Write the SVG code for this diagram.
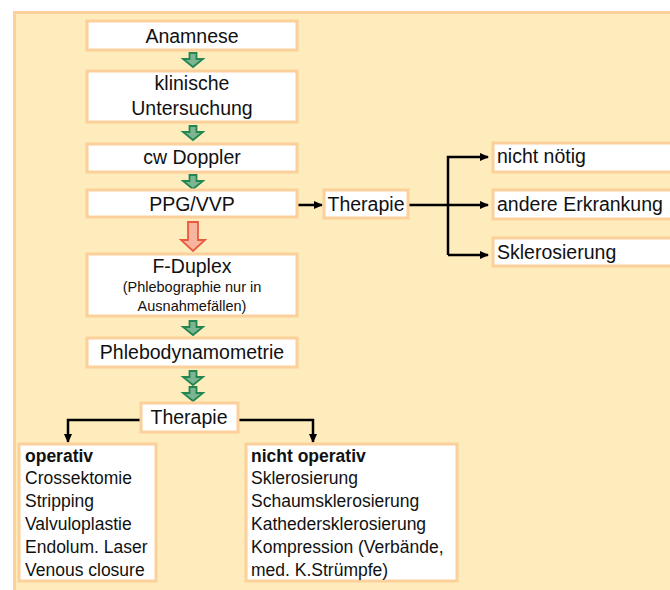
<svg xmlns="http://www.w3.org/2000/svg" xmlns:xlink="http://www.w3.org/1999/xlink" width="670" height="590" viewBox="0 0 670 590">
<style>
.box{fill:#fff;stroke:#fbd09a;stroke-width:3}
.t{font-family:"Liberation Sans",Arial,sans-serif;font-size:19.5px;fill:#111}
.s{font-family:"Liberation Sans",Arial,sans-serif;font-size:14.5px;fill:#111}
.l{font-family:"Liberation Sans",Arial,sans-serif;font-size:17.5px;fill:#111}
.b{font-weight:bold}
.c{text-anchor:middle}
.con{fill:none;stroke:#000;stroke-width:2.5}
.ga{fill:#7bb592;stroke:#238552;stroke-width:1.8;stroke-linejoin:miter}
.ra{fill:#f7b49e;stroke:#ea5a3e;stroke-width:1.8}
</style>
<defs>
<marker id="ah" markerWidth="10" markerHeight="10" refX="8" refY="5" orient="auto" markerUnits="userSpaceOnUse">
<path d="M0,1 L9,5 L0,9 z" fill="#000"/>
</marker>
<path id="garrow" d="M-3.5,0 h7 v6 h6.5 l-10,8 l-10,-8 h6.5 z" class="ga"/>
</defs>
<rect x="14.5" y="12.5" width="700" height="600" fill="#ffecbd" stroke="#fbd09a" stroke-width="3"/>

<g id="connectors">
<use xlink:href="#garrow" x="193" y="53"/>
<use xlink:href="#garrow" x="193" y="126"/>
<use xlink:href="#garrow" x="193" y="175"/>
<path class="ra" d="M188,222 h10 v18 h7 l-12,11 l-12,-11 h7 z"/>
<use xlink:href="#garrow" x="193" y="321"/>
<use xlink:href="#garrow" x="193" y="371"/>
<use xlink:href="#garrow" x="193" y="387"/>
<path class="con" d="M298,205 H322" marker-end="url(#ah)"/>
<path class="con" d="M408,205 H488" marker-end="url(#ah)"/>
<path class="con" d="M448,255 V157 H488" marker-end="url(#ah)"/>
<path class="con" d="M448,255 H488" marker-end="url(#ah)"/>
<path class="con" d="M140,420 H68 V442" marker-end="url(#ah)"/>
<path class="con" d="M239,420 H313 V442" marker-end="url(#ah)"/>
</g>

<g id="anamnese"><rect class="box" x="87" y="21" width="210" height="29"/><text class="t c" x="192" y="43">Anamnese</text></g>
<g id="klinisch"><rect class="box" x="87" y="71" width="210" height="51"/><text class="t c" x="192" y="90">klinische</text><text class="t c" x="192" y="115">Untersuchung</text></g>
<g id="doppler"><rect class="box" x="87" y="144" width="210" height="28"/><text class="t c" x="192" y="164">cw Doppler</text></g>
<g id="ppg"><rect class="box" x="87" y="190" width="210" height="27"/><text class="t c" x="192" y="211">PPG/VVP</text></g>
<g id="fduplex"><rect class="box" x="87" y="254" width="210" height="62"/><text class="t c" x="192" y="273">F-Duplex</text><text class="s c" x="192" y="292">(Phlebographie nur in</text><text class="s c" x="192" y="311">Ausnahmefällen)</text></g>
<g id="phlebo"><rect class="box" x="87" y="338" width="210" height="29"/><text class="t c" x="192" y="359">Phlebodynamometrie</text></g>
<g id="therapie1"><rect class="box" x="141" y="403" width="97" height="29"/><text class="t c" x="189" y="424">Therapie</text></g>
<g id="therapie2"><rect class="box" x="324" y="190" width="84" height="28"/><text class="t c" x="366" y="211">Therapie</text></g>
<g id="nichtnoetig"><rect class="box" x="493" y="143" width="190" height="29"/><text class="t" x="497" y="163">nicht nötig</text></g>
<g id="andere"><rect class="box" x="493" y="190" width="190" height="29"/><text class="t" x="497" y="211">andere Erkrankung</text></g>
<g id="sklero"><rect class="box" x="493" y="238" width="190" height="28"/><text class="t" x="497" y="259">Sklerosierung</text></g>
<g id="operativ"><rect class="box" x="19" y="444" width="137" height="137"/>
<text class="l b" x="25" y="462">operativ</text>
<text class="l" x="25" y="484">Crossektomie</text>
<text class="l" x="25" y="507">Stripping</text>
<text class="l" x="25" y="530">Valvuloplastie</text>
<text class="l" x="25" y="553">Endolum. Laser</text>
<text class="l" x="25" y="576">Venous closure</text></g>
<g id="nichtoperativ"><rect class="box" x="246" y="444" width="211" height="137"/>
<text class="l b" x="251" y="462">nicht operativ</text>
<text class="l" x="251" y="484">Sklerosierung</text>
<text class="l" x="251" y="507">Schaumsklerosierung</text>
<text class="l" x="251" y="530">Kathedersklerosierung</text>
<text class="l" x="251" y="553">Kompression (Verbände,</text>
<text class="l" x="251" y="576">med. K.Strümpfe)</text></g>
</svg>
